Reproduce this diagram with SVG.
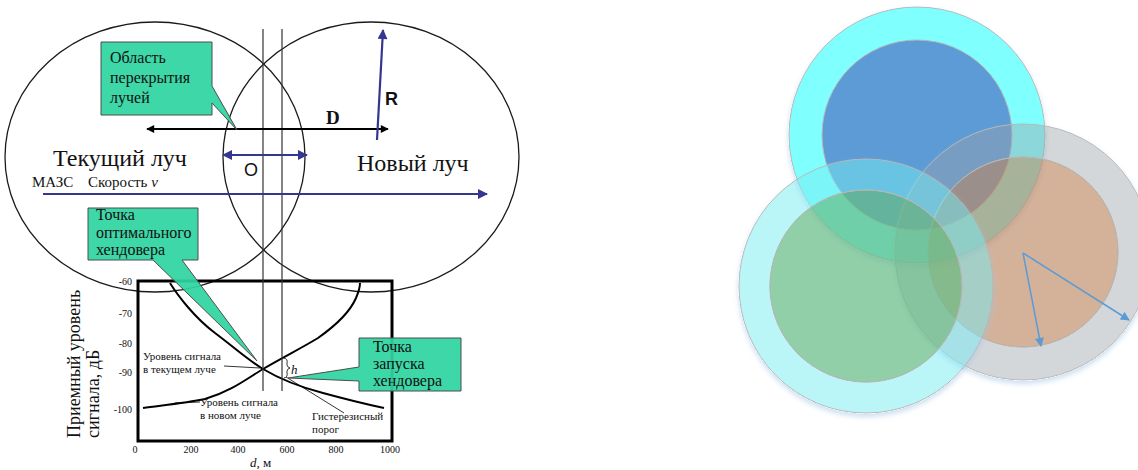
<svg xmlns="http://www.w3.org/2000/svg" width="1138" height="470" viewBox="0 0 1138 470">
<defs>
<style>
.serif{font-family:"Liberation Serif","Times New Roman",serif;fill:#111}
.sans{font-family:"Liberation Sans",Arial,sans-serif;fill:#111}
.ell{fill:none;stroke:#1a1a1a;stroke-width:1.3}
.vl{fill:none;stroke:#333;stroke-width:1.2}
.curve{fill:none;stroke:#000;stroke-width:2}
.callout{fill:#2fd4a0;fill-opacity:0.93;stroke:#4d4d4d;stroke-width:1}
.lead{fill:none;stroke:#000;stroke-width:0.8}
.navy{stroke:#35368f;stroke-width:2.2;fill:none}
.blk{stroke:#000;stroke-width:1.8;fill:none}
.lb{stroke:#5b9bd5;stroke-width:1.5;fill:none}
.edge{stroke:#b8b8b8;stroke-width:1}
.tick{font-size:10px}
.lab{font-size:11px}
.co{font-size:16px}
</style>
<marker id="ab" viewBox="0 0 10 10" refX="9" refY="5" markerWidth="10" markerHeight="8" markerUnits="userSpaceOnUse" orient="auto-start-reverse"><path d="M0,0 L10,5 L0,10 Z" fill="#000"/></marker>
<marker id="au" viewBox="0 0 10 10" refX="9" refY="5" markerWidth="14" markerHeight="10" markerUnits="userSpaceOnUse" orient="auto-start-reverse"><path d="M0,0 L10,5 L0,10 Z" fill="#35368f"/></marker>
<marker id="al" viewBox="0 0 10 10" refX="9" refY="5" markerWidth="11" markerHeight="9" markerUnits="userSpaceOnUse" orient="auto"><path d="M0,0 L10,5 L0,10 Z" fill="#5b9bd5"/></marker>
<filter id="sh" x="-15%" y="-15%" width="130%" height="135%">
<feComponentTransfer in="SourceAlpha" result="solid"><feFuncA type="linear" slope="30" intercept="0"/></feComponentTransfer>
<feGaussianBlur in="solid" stdDeviation="2.5" result="b"/>
<feOffset in="b" dx="0" dy="3" result="o"/>
<feFlood flood-color="#9dc3e6" flood-opacity="0.5"/>
<feComposite in2="o" operator="in" result="s"/>
<feComposite in="s" in2="solid" operator="out" result="s2"/>
<feMerge><feMergeNode in="s2"/><feMergeNode in="SourceGraphic"/></feMerge>
</filter>
</defs>
<rect width="1138" height="470" fill="#fff"/>

<!-- Left diagram -->
<g id="beam-current"><ellipse class="ell" cx="155" cy="157" rx="150" ry="135"/></g>
<g id="beam-new"><ellipse class="ell" cx="371" cy="157" rx="148" ry="135"/></g>

<g id="chart">
<rect x="138" y="281" width="254" height="160" fill="none" stroke="#000" stroke-width="3"/>
<g class="serif tick" text-anchor="end">
<text x="132" y="285">-60</text>
<text x="132" y="317">-70</text>
<text x="132" y="347">-80</text>
<text x="132" y="376">-90</text>
<text x="132" y="413">-100</text>
</g>
<g class="serif tick" text-anchor="middle">
<text x="135" y="453">0</text>
<text x="191" y="453">200</text>
<text x="238" y="453">400</text>
<text x="287" y="453">600</text>
<text x="336" y="453">800</text>
<text x="390" y="453">1000</text>
</g>
<text class="serif" x="250" y="467" font-size="13"><tspan font-style="italic">d</tspan>, м</text>
<text class="serif" font-size="18" transform="translate(80,438) rotate(-90)">Приемный уровень</text>
<text class="serif" font-size="18" transform="translate(99,438) rotate(-90)">сигнала, дБ</text>
<path class="curve" d="M170,283 C178,296 195,318 215,333 C235,348 248,360 263,369 C283,381 300,387 323,393 C345,399 365,404 384,408"/>
<path class="curve" d="M143,408 C165,405 185,403 205,399 C230,392 248,378 263,369 C285,356 300,349 318,338 C335,326 350,312 356,298 C359,291 360,287 360,283"/>
<path class="lead" d="M224,366 L260,368"/>
<path class="lead" d="M175,403 L200,402"/>
<path class="lead" d="M286,377 L344,413"/>
<path class="lead" d="M284,358 Q288,359 287,363 L287,365 Q287,367 290,368 Q287,369 287,371 L287,373 Q288,377 284,378"/>
<text class="serif" x="291" y="374" font-size="13" font-style="italic">h</text>
<text class="serif lab" x="143" y="360">Уровень сигнала</text>
<text class="serif lab" x="143" y="373">в текущем луче</text>
<text class="serif lab" x="200" y="406">Уровень сигнала</text>
<text class="serif lab" x="200" y="419">в новом луче</text>
<text class="serif lab" x="312" y="420">Гистерезисный</text>
<text class="serif lab" x="312" y="433">порог</text>
</g>

<g id="connectors">
<line class="vl" x1="263" y1="29" x2="263" y2="391"/>
<line class="vl" x1="282" y1="29" x2="282" y2="391"/>
<line class="blk" x1="147" y1="129" x2="388" y2="129" marker-start="url(#ab)" marker-end="url(#ab)"/>
<line class="navy" x1="377" y1="140" x2="383" y2="30" marker-end="url(#au)"/>
<line class="navy" x1="223" y1="155" x2="307" y2="155" marker-start="url(#au)" marker-end="url(#au)"/>
<line class="navy" x1="43" y1="194" x2="487" y2="194" marker-end="url(#au)"/>
</g>

<g id="labels">
<text class="serif" x="326" y="124" font-size="19" font-weight="bold">D</text>
<text class="sans" x="385" y="105" font-size="18" font-weight="bold">R</text>
<text class="sans" x="244" y="176" font-size="18">O</text>
<text class="serif" x="53" y="166" font-size="24">Текущий луч</text>
<text class="serif" x="357" y="171" font-size="24">Новый луч</text>
<text class="serif" x="32" y="187" font-size="15">МАЗС<tspan x="88">Скорость </tspan><tspan font-style="italic">v</tspan></text>
</g>

<g id="callout-overlap">
<path class="callout" d="M101,42 H212 V86 L237,130 L212,103 V115 H101 Z"/>
<text class="serif co" x="110" y="63">Область</text>
<text class="serif co" x="110" y="83">перекрытия</text>
<text class="serif co" x="110" y="103">лучей</text>
</g>
<g id="callout-optimal">
<path class="callout" d="M88,208 H198 V260 H182 L257,361 L153,260 H88 Z"/>
<text class="serif co" x="96" y="220">Точка</text>
<text class="serif co" x="96" y="238">оптимального</text>
<text class="serif co" x="96" y="255">хендовера</text>
</g>
<g id="callout-start">
<path class="callout" d="M359,338 H461 V391 H359 V381 L288,378 L359,367 Z"/>
<text class="serif co" x="373" y="352">Точка</text>
<text class="serif co" x="373" y="369">запуска</text>
<text class="serif co" x="373" y="386">хендовера</text>
</g>

<!-- Right diagram -->
<g id="circle-top" filter="url(#sh)">
<circle class="edge" cx="917" cy="135" r="128" fill="#80ffff"/>
<circle class="edge" cx="917" cy="135" r="95" fill="#5b9bd5"/>
</g>
<g id="circle-right" filter="url(#sh)">
<path class="edge" fill="rgb(155,162,170)" fill-opacity="0.43" fill-rule="evenodd" d="M895,252 a128,128 0 1 0 256,0 a128,128 0 1 0 -256,0 Z M928,252 a95,95 0 1 0 190,0 a95,95 0 1 0 -190,0 Z"/>
<circle class="edge" cx="1023" cy="252" r="95" fill="rgb(189,137,100)" fill-opacity="0.65"/>
</g>
<g id="circle-left" filter="url(#sh)">
<path class="edge" fill="rgb(117,235,241)" fill-opacity="0.5" fill-rule="evenodd" d="M739,286 a127,127 0 1 0 254,0 a127,127 0 1 0 -254,0 Z M770,286 a96,96 0 1 0 192,0 a96,96 0 1 0 -192,0 Z"/>
<circle class="edge" cx="866" cy="286" r="96" fill="rgb(104,188,134)" fill-opacity="0.72"/>
</g>
<g id="radius-arrows">
<line class="lb" x1="1023" y1="253" x2="1041" y2="346" marker-end="url(#al)"/>
<line class="lb" x1="1023" y1="253" x2="1129" y2="320" marker-end="url(#al)"/>
</g>
</svg>
